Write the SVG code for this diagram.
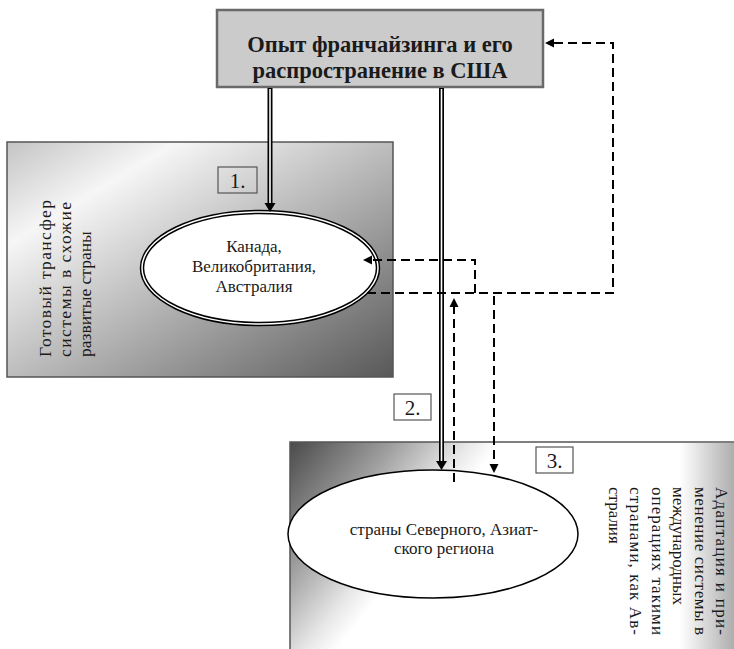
<svg xmlns="http://www.w3.org/2000/svg" width="734" height="649" viewBox="0 0 734 649">
<defs>
<linearGradient id="g1" x1="0" y1="0" x2="1" y2="1">
<stop offset="0" stop-color="#c4c4c4"/>
<stop offset="0.22" stop-color="#f6f6f6"/>
<stop offset="1" stop-color="#585858"/>
</linearGradient>
<linearGradient id="g3" gradientUnits="userSpaceOnUse" x1="290" y1="442" x2="420" y2="545">
<stop offset="0" stop-color="#4a4a4a"/>
<stop offset="0.5" stop-color="#a0a0a0"/>
<stop offset="0.85" stop-color="#e8e8e8"/>
<stop offset="1" stop-color="#ffffff"/>
</linearGradient>
<linearGradient id="g3r" gradientUnits="userSpaceOnUse" x1="680" y1="0" x2="734" y2="0">
<stop offset="0" stop-color="#000" stop-opacity="0"/>
<stop offset="1" stop-color="#000" stop-opacity="0.32"/>
</linearGradient>
<style>
.t{font-family:"Liberation Serif","Times New Roman",serif;fill:#1a1a1a}
.lbl{fill:none;stroke:#555;stroke-width:1.2}
.dash{fill:none;stroke:#000;stroke-width:2;stroke-dasharray:9 5}
.dblo{stroke:#000;stroke-width:5}
.dbli{stroke:#fff;stroke-width:1.6}
</style>
</defs>

<g id="panel1">
<rect x="7" y="142" width="386" height="235" fill="url(#g1)" stroke="#555" stroke-width="1.5"/>
<text class="t" font-size="17.5" transform="translate(51,357) rotate(-90)" textLength="157" lengthAdjust="spacing">Готовый трансфер</text>
<text class="t" font-size="17.5" transform="translate(71,357) rotate(-90)" textLength="155" lengthAdjust="spacing">системы в схожие</text>
<text class="t" font-size="17.5" transform="translate(91,357) rotate(-90)">развитые страны</text>
</g>

<g id="panel3">
<rect x="290" y="442" width="450" height="215" fill="url(#g3)" stroke="#555" stroke-width="1.5"/>
<rect x="680" y="443" width="54" height="206" fill="url(#g3r)"/>
<text class="t" font-size="17" transform="translate(716,487) rotate(90)" textLength="148" lengthAdjust="spacing">Адаптация и при-</text>
<text class="t" font-size="17" transform="translate(694.5,487) rotate(90)" textLength="148" lengthAdjust="spacing">менение системы в</text>
<text class="t" font-size="17" transform="translate(673,487) rotate(90)">международных</text>
<text class="t" font-size="17" transform="translate(651.5,487) rotate(90)" textLength="148" lengthAdjust="spacing">операциях такими</text>
<text class="t" font-size="17" transform="translate(630,487) rotate(90)" textLength="148" lengthAdjust="spacing">странами, как Ав-</text>
<text class="t" font-size="17" transform="translate(608.5,487) rotate(90)">стралия</text>
</g>

<g id="top">
<rect x="217" y="10" width="326" height="77" fill="#cbcbcb" stroke="#6a6a6a" stroke-width="2.5"/>
<text class="t" font-size="22.5" font-weight="bold" text-anchor="middle" x="380" y="52">Опыт франчайзинга и его</text>
<text class="t" font-size="22.5" font-weight="bold" text-anchor="middle" x="380" y="78">распространение в США</text>
</g>

<g id="label1">
<rect class="lbl" x="218" y="167" width="39" height="26"/>
<text class="t" font-size="21" text-anchor="middle" x="237.5" y="188">1.</text>
</g>
<g id="label2">
<rect class="lbl" x="394" y="394" width="37" height="26"/>
<text class="t" font-size="21" text-anchor="middle" x="412.5" y="415">2.</text>
</g>
<g id="label3">
<rect class="lbl" x="536" y="447" width="37" height="26"/>
<text class="t" font-size="21" text-anchor="middle" x="554.5" y="468">3.</text>
</g>

<g id="ellipse1">
<ellipse cx="260" cy="268" rx="118" ry="56" fill="#fff" stroke="#000" stroke-width="4.5"/>
<ellipse cx="260" cy="268" rx="118" ry="56" fill="none" stroke="#fff" stroke-width="1.5"/>
<text class="t" font-size="17" text-anchor="middle" x="254" y="252">Канада,</text>
<text class="t" font-size="17" text-anchor="middle" x="254" y="272">Великобритания,</text>
<text class="t" font-size="17" text-anchor="middle" x="254" y="292">Австралия</text>
</g>

<g id="ellipse3">
<ellipse cx="433" cy="534" rx="145" ry="64" fill="#fff" stroke="#000" stroke-width="1.5"/>
<text class="t" font-size="17" text-anchor="middle" x="444" y="535">страны Северного, Азиат-</text>
<text class="t" font-size="17" text-anchor="middle" x="444" y="554">ского региона</text>
</g>

<g id="connectors">
<line class="dblo" x1="270" y1="88" x2="270" y2="204"/>
<line class="dbli" x1="270" y1="89" x2="270" y2="204"/>
<polygon points="264.5,203 275.5,203 270,212" fill="#000"/>
<line class="dblo" x1="441.5" y1="88" x2="441.5" y2="462"/>
<line class="dbli" x1="441.5" y1="89" x2="441.5" y2="462"/>
<polygon points="436,461 447,461 441.5,470" fill="#000"/>

<path class="dash" d="M367 293 H613 V43 H553"/>
<polygon points="545,43 554,38.5 554,47.5" fill="#000"/>
<path class="dash" d="M475 293 V260 H372"/>
<polygon points="363,260 372,255.5 372,264.5" fill="#000"/>
<path class="dash" d="M494 296 V464"/>
<polygon points="489.5,464 498.5,464 494,473" fill="#000"/>
<path class="dash" d="M454 482 V307"/>
<polygon points="449.5,307 458.5,307 454,298" fill="#000"/>
</g>
</svg>
